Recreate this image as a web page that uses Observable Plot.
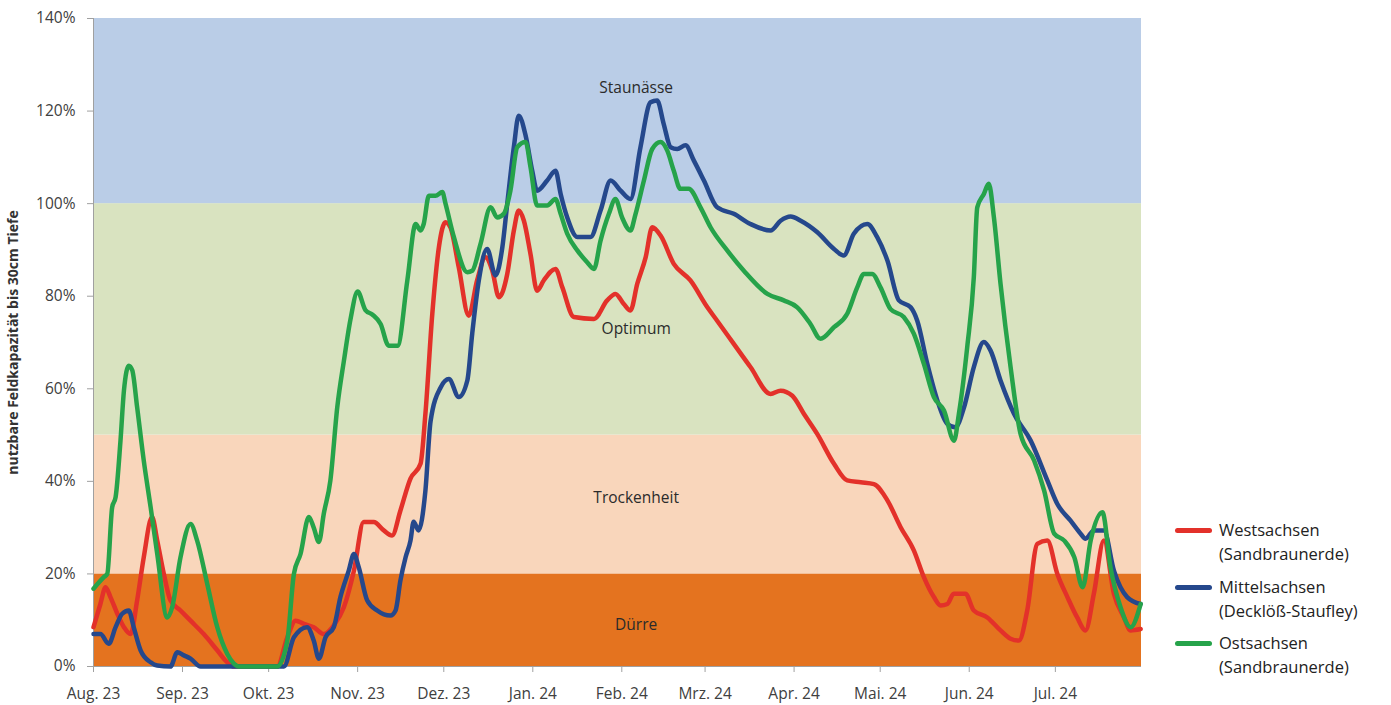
<!DOCTYPE html>
<html>
<head>
<meta charset="utf-8">
<script src="https://cdn.jsdelivr.net/npm/d3@7"></script>
<script src="https://cdn.jsdelivr.net/npm/@observablehq/plot@0.6"></script>
<style>
  html, body { margin: 0; padding: 0; background: #fff; overflow: hidden; }
  #wrap { position: relative; width: 1391px; height: 705px; }
  #legend { position: absolute; left: 0; top: 0; font-family: "Open Sans", sans-serif; font-size: 16.5px; color: #222; }
  .item { position: absolute; }
  .swatch { position: absolute; width: 37px; height: 5px; border-radius: 3px; }
  .label { position: absolute; line-height: 23.5px; white-space: nowrap; }
</style>
</head>
<body>
<div id="wrap"><div id="legend"></div></div>
<script>
// ---- Data (day offset from 1 Aug 2023, percent of usable field capacity) ----
const seriesNames = ["Westsachsen", "Mittelsachsen", "Ostsachsen"];
const seriesSubtitles = ["(Sandbraunerde)", "(Decklöß-Staufley)", "(Sandbraunerde)"];

const westsachsen = [[0,8.5],[2.4,13.5],[4.2,17.1],[5.9,15],[8.3,11.4],[10.6,8.5],[12.9,7],[15.2,14.3],[17.5,23.6],[20.4,32.3],[22.2,27.2],[24.5,20],[26.8,14.3],[30.3,12.1],[33.8,9.9],[38.4,7],[43.1,3.5],[46.6,0.9],[48.9,0],[64,0],[67.5,6.3],[70.4,9.9],[73.3,9.2],[76.7,8.5],[80.2,7],[83.7,8.9],[87.2,12.8],[90.7,20.7],[94.1,31.2],[97.6,31.2],[101.1,29.4],[104,28.3],[106.9,33.7],[110.4,40.6],[113.9,43.8],[115.6,54.6],[118,76.2],[120.3,90.6],[122.6,96],[124.3,94.9],[127.2,86.3],[130.7,75.8],[133.6,83.4],[136.5,88.4],[138.9,85.5],[141.2,79.8],[144.1,84.8],[146.4,94.2],[148.1,98.5],[149.9,96.3],[152.2,89.1],[154.5,81.2],[156.8,83.4],[160.9,85.9],[163.3,81.9],[167.3,75.5],[174.3,75.1],[178.9,79.1],[181.8,80.5],[184.7,78.3],[187,76.9],[189.4,82.7],[192.3,88.4],[194.6,94.9],[197.5,93.1],[202.1,87],[207.9,83.4],[213.8,77.6],[217.2,74.7],[223,69.7],[228.8,64.7],[235.8,58.9],[239.3,59.6],[243.4,58.5],[247.4,54.6],[252.1,50.2],[257.9,43.8],[262.5,40.2],[267.2,39.8],[271.8,39.4],[276.5,35.9],[281.1,30.1],[285.7,25.1],[289.2,19.3],[292.7,15],[295,13.2],[297.4,13.5],[299.6,15.7],[303.7,15.7],[306.6,12.1],[311.3,10.6],[315.9,7.8],[319.4,6],[322.3,5.6],[325.2,12.1],[328.7,26.5],[332.2,27.2],[335.7,20],[339.2,15],[342.6,10.6],[345.5,7.8],[348.4,15.7],[351.9,27.2],[355.4,15.7],[358.9,10.6],[361.2,7.8],[364.7,8.1]];

const mittelsachsen = [[0,7],[2.4,7],[5.3,4.9],[7.7,8.5],[10,11.4],[12.3,12.1],[14,8.5],[16.4,3.5],[19.9,0.9],[22.2,0.2],[26.8,0],[29.2,3.1],[31.5,2.4],[33.8,1.7],[37.3,0],[66.3,0],[69.8,6.3],[74.4,8.5],[76.7,5.6],[78.5,1.7],[80.8,6.3],[83.7,8.5],[86,15],[88.9,20.7],[90.7,24.3],[92.4,21.4],[95.3,14.3],[98.8,12.1],[103.4,11],[105.2,12.1],[106.9,18.6],[108.7,23.6],[110.4,27.2],[111.5,31.3],[113.2,29.4],[115.6,38],[117.4,53],[120.9,60.3],[123.8,62.1],[127.2,58.2],[130.2,61.8],[131.9,71.9],[134.2,83.4],[137.1,90.2],[140,84.5],[142.4,90.6],[144.1,100],[146.4,112.2],[148.1,119],[150.5,114.7],[152.8,107.1],[154.5,102.8],[158,105],[160.9,107.1],[162.7,102.1],[165,97],[168.5,92.8],[173.1,92.8],[176.6,98.5],[180.1,105],[183.6,102.8],[187,101],[190.5,112.2],[194,121.9],[196.3,122.3],[198.6,117.2],[201,112.2],[203.3,111.8],[206.2,112.6],[209.1,109.3],[212.6,105],[217.2,99.2],[223,97.8],[228.8,95.6],[235.8,94.2],[239.3,96.3],[242.8,97.2],[246.3,96.3],[252.1,93.8],[257.9,90.2],[261.3,88.8],[264.8,93.5],[269.5,95.6],[272.9,92.8],[276.5,87.7],[280.5,79.1],[284.6,77.6],[286.9,74.7],[290.4,65.4],[293.9,57.5],[297.4,52.4],[300.2,51.7],[303.2,56],[306.6,64.7],[310.1,70.1],[312.4,68.3],[315.9,61.8],[320.6,54.6],[326.4,48.8],[332.2,40.2],[335.7,35.1],[340.3,31.5],[343.8,28.7],[345.5,27.6],[348.4,29.4],[351.9,29.4],[355.4,20.7],[360,15],[364.7,13.5]];

const ostsachsen = [[0,16.8],[3.6,19.3],[4.8,20],[6.5,34.4],[7.7,36.6],[9.4,48.8],[10.6,59.6],[12.3,65],[13.5,64],[15.2,56],[17.5,44.5],[19.9,34.4],[22.2,24.3],[25.7,10.6],[27.4,12.8],[30.3,23.6],[33.8,30.8],[36.1,27.2],[39.6,17.9],[43.1,8.5],[46.6,2.7],[48.9,0.6],[50.5,0],[64,0],[67.5,5.6],[69.8,20],[72.1,24.3],[75,32.3],[76.7,30],[78.5,26.9],[80.2,33],[82.5,40.2],[84.9,56],[87.2,66],[89.5,75],[92,81],[94.7,77],[97.2,76],[100,74],[102.8,69.3],[105.9,69.3],[109.3,83.4],[112.2,95.6],[113.9,94.2],[115,95.6],[116.8,101.7],[119.1,101.7],[121.5,102.5],[122.6,100],[125.5,92.8],[130.2,85.2],[131.9,85.5],[134.8,91.3],[138.3,99.2],[140.6,97],[142.9,97.8],[145.2,102.8],[147.6,112.2],[150.5,113.3],[152.2,107.9],[154.5,99.6],[158,99.6],[160.9,101],[162.7,97.8],[165,93.5],[168.5,89.9],[172,87.3],[174.3,85.9],[176.6,92],[179.5,97.8],[181.8,101],[184.1,97],[187,94.2],[188.8,97.8],[191.7,105],[194.6,111.8],[197.5,113.3],[199.8,111.5],[202.1,107.1],[204.4,103.2],[207.3,103.2],[211.4,99.2],[214.9,94.9],[220.7,89.9],[226.5,85.5],[234.7,80.5],[240.4,79.1],[245.1,77.6],[249.7,74],[253.2,70.8],[257.9,73.3],[262.5,76.2],[266,81.9],[268.3,84.8],[271.2,84.8],[274.1,81.9],[277.6,77.2],[282.2,75.5],[285.7,71.9],[289.2,65.4],[292.7,58.2],[296.2,55.3],[299.7,48.8],[301.4,54.6],[304.3,69],[306.6,84.1],[307.8,99.2],[310.1,102.1],[311.8,104.3],[313.6,97],[315.9,82.7],[319.4,64.7],[322.9,50.2],[327.6,44.5],[331.1,38],[334.6,28.7],[338.1,27.2],[341.6,23.6],[344.5,17.1],[347.3,27.2],[351.4,33.3],[354.2,21.4],[357.7,12.8],[361.2,8.5],[364.7,13.5]];

// Classification bands (percent)
const bandNames = ["Dürre", "Trockenheit", "Optimum", "Staunässe"];
const bandLow = [0, 20, 50, 100];
const bandHigh = [20, 50, 100, 140];

// Axis ticks
const yTicks = [0, 20, 40, 60, 80, 100, 120, 140];
const monthLabels = ["Aug. 23", "Sep. 23", "Okt. 23", "Nov. 23", "Dez. 23", "Jan. 24", "Feb. 24", "Mrz. 24", "Apr. 24", "Mai. 24", "Jun. 24", "Jul. 24"];
const yTitle = "nutzbare Feldkapazität bis 30cm Tiefe";

// ---- Styles ----
const lineColors = ["#e3312a", "#25488c", "#26a34a"];
const bandColors = ["#e4731f", "#f9d6bb", "#d9e3c0", "#bacde7"];
const bandLabelY = [8.9, 36.3, 73, 125];

const start = new Date(Date.UTC(2023, 7, 1));
const end = new Date(Date.UTC(2024, 6, 31));
const toDate = d => new Date(start.getTime() + d * 864e5);
const monthTicks = d3.utcMonths(start, new Date(Date.UTC(2024, 7, 1)));
const labelDate = new Date(Date.UTC(2024, 1, 6));

const allSeries = [westsachsen, mittelsachsen, ostsachsen].map(s => s.map(([d, v]) => ({date: toDate(d), value: v})));
const bands = bandNames.map((name, i) => ({name, low: bandLow[i], high: bandHigh[i], x1: start, x2: end}));

const chart = Plot.plot({
  width: 1391,
  height: 705,
  marginLeft: 93,
  marginRight: 250,
  marginTop: 18,
  marginBottom: 39,
  style: {fontFamily: "'Open Sans', sans-serif", fontSize: "15px", color: "#404040", background: "transparent"},
  x: {type: "utc", domain: [start, end]},
  y: {domain: [0, 140]},
  marks: [
    ...bands.map((b, i) => Plot.rect([b], {x1: "x1", x2: "x2", y1: "low", y2: "high", fill: bandColors[i]})),
    ...bands.map((b, i) => Plot.text([b], {x: () => labelDate, y: () => bandLabelY[i], text: "name", fill: "#2b2b2b", fontSize: 15.5})),
    Plot.axisY({ticks: yTicks, tickFormat: d => d + "%", tickSize: 6, tickPadding: 12, label: null, stroke: "#a0a0a0", fill: "#404040", fontSize: 15.5}),
    Plot.ruleX([start], {stroke: "#a0a0a0"}),
    Plot.axisX({ticks: monthTicks, tickFormat: d => monthLabels[(d.getUTCMonth() + 5) % 12], tickSize: 6, tickPadding: 15, label: null, stroke: "#a0a0a0", fill: "#404040", fontSize: 15.5}),
    Plot.ruleY([0], {stroke: "#a0a0a0"}),
    ...allSeries.map((s, i) => Plot.line(s, {x: "date", y: "value", stroke: lineColors[i], strokeWidth: 4.5, strokeLinejoin: "round", strokeLinecap: "round", curve: "monotone-x"})),
    Plot.text([yTitle], {frameAnchor: "left", textAnchor: "middle", rotate: -90, dx: -80, fontWeight: "bold", fontSize: 14, fill: "#333"})
  ]
});
document.getElementById("wrap").prepend(chart);

// Legend (HTML, right of the plot)
const legend = document.getElementById("legend");
const legendY = [530, 587, 643];
seriesNames.forEach((name, i) => {
  const item = document.createElement("div");
  item.className = "item";
  item.style.top = legendY[i] + "px";
  item.innerHTML = `<div class="swatch" style="left:1175px;top:-2.5px;background:${lineColors[i]}"></div>` +
    `<div class="label" style="left:1219px;top:-11.75px">${name}<br>${seriesSubtitles[i]}</div>`;
  legend.appendChild(item);
});
</script>
</body>
</html>
